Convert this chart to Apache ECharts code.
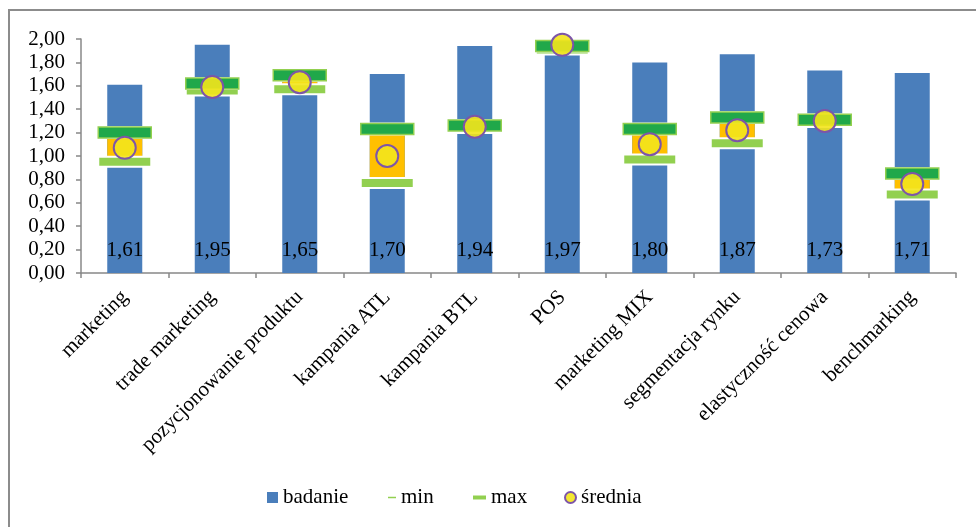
<!DOCTYPE html>
<html>
<head>
<meta charset="utf-8">
<script src="https://cdn.jsdelivr.net/npm/echarts@6/dist/echarts.min.js"></script>
<style>
  html, body { margin: 0; padding: 0; background: #fff; }
  #chart { width: 976px; height: 527px; }
</style>
</head>
<body>
<div id="chart"></div>
<script>
/**
 * data
 */
var categories = ['marketing', 'trade marketing', 'pozycjonowanie produktu', 'kampania ATL', 'kampania BTL',
    'POS', 'marketing MIX', 'segmentacja rynku', 'elastyczność cenowa', 'benchmarking'];
var badanie = [1.61, 1.95, 1.65, 1.70, 1.94, 1.97, 1.80, 1.87, 1.73, 1.71];
var minVals = [0.95, 1.56, 1.57, 0.77, 1.24, 1.91, 0.97, 1.11, 1.29, 0.67];
var maxVals = [1.20, 1.62, 1.69, 1.23, 1.26, 1.94, 1.23, 1.33, 1.31, 0.85];
var srednia = [1.07, 1.59, 1.63, 1.00, 1.25, 1.95, 1.10, 1.22, 1.30, 0.76];

var FONT = 'Liberation Serif';
var BLUE = '#4a7ebb', ORANGE = '#ffc000', DARK_GREEN = '#20a84a', LIGHT_GREEN = '#92d050';

function fmt(v){
    return Number(v).toFixed(2).replace('.', ',');
}

/**
 * draws a flat dash marker centred on the value
 */
function dashRenderer(w, h, fill, stroke, pad){
    return function(params, api){
        var p = api.coord([api.value(0), api.value(1)]);
        var children = [];
        if (pad > 0) {
            children.push({
                type: 'rect',
                shape: {x: p[0] - w / 2 - pad, y: p[1] - h / 2 - pad, width: w + pad * 2, height: h + pad * 2},
                style: {fill: '#fff'}
            });
        }
        children.push({
            type: 'rect',
            shape: {x: p[0] - w / 2, y: p[1] - h / 2, width: w, height: h},
            style: {fill: fill, stroke: stroke, lineWidth: stroke ? 1.5 : 0}
        });
        return {type: 'group', children: children};
    };
}

function boxRenderer(params, api){
    var lo = api.coord([api.value(0), api.value(1)]);
    var hi = api.coord([api.value(0), api.value(2)]);
    var w = 35;
    return {
        type: 'rect',
        shape: {x: lo[0] - w / 2, y: hi[1], width: w, height: lo[1] - hi[1]},
        style: {fill: ORANGE}
    };
}

var chart = echarts.init(document.getElementById('chart'));

var legendBase = {
    top: 482,
    orient: 'horizontal',
    selectedMode: false,
    textStyle: {fontFamily: FONT, fontSize: 21, color: '#000'}
};

var option = {
    animation: false,
    backgroundColor: '#fff',
    textStyle: {fontFamily: FONT},
    graphic: [{
        type: 'rect',
        shape: {x: 9, y: 10, width: 1000, height: 600},
        style: {fill: 'none', stroke: '#8c8c8c', lineWidth: 2},
        silent: true
    }],
    legend: [
        Object.assign({}, legendBase, {left: 262, itemWidth: 11, itemHeight: 11,
            data: [{name: 'badanie', icon: 'rect'}]}),
        Object.assign({}, legendBase, {left: 383, itemWidth: 8, itemHeight: 1.5,
            data: [{name: 'min', icon: 'rect', itemStyle: {color: LIGHT_GREEN, borderWidth: 0}}]}),
        Object.assign({}, legendBase, {left: 468, itemWidth: 13, itemHeight: 4,
            data: [{name: 'max', icon: 'rect', itemStyle: {color: LIGHT_GREEN, borderWidth: 0}}]}),
        Object.assign({}, legendBase, {left: 559, itemWidth: 11, itemHeight: 11,
            data: [{name: 'średnia', icon: 'circle'}]})
    ],
    grid: {left: 81, right: 20, top: 39, bottom: 254},
    xAxis: {
        type: 'category',
        data: categories,
        axisLine: {lineStyle: {color: '#888', width: 1.5}},
        axisTick: {show: true, length: 5, interval: 0, lineStyle: {color: '#888', width: 1.5}},
        axisLabel: {
            interval: 0,
            rotate: 45,
            margin: 21,
            fontFamily: FONT,
            fontSize: 21,
            color: '#000'
        }
    },
    yAxis: {
        type: 'value',
        min: 0,
        max: 2,
        interval: 0.2,
        splitLine: {show: false},
        axisLine: {show: true, lineStyle: {color: '#888', width: 1.5}},
        axisTick: {show: true, length: 5, lineStyle: {color: '#888', width: 1.5}},
        axisLabel: {
            margin: 16,
            fontFamily: FONT,
            fontSize: 21,
            color: '#000',
            formatter: function(v){ return fmt(v); }
        }
    },
    series: [
        {
            name: 'badanie',
            type: 'bar',
            barWidth: 35,
            z: 2,
            itemStyle: {color: BLUE},
            label: {
                show: true,
                position: 'insideBottom',
                distance: 12,
                fontFamily: FONT,
                fontSize: 21,
                color: '#000',
                formatter: function(p){ return fmt(p.value); }
            },
            data: badanie
        },
        {
            name: 'box',
            type: 'custom',
            z: 3,
            silent: true,
            renderItem: boxRenderer,
            data: minVals.map(function(v, i){ return [i, v, maxVals[i]]; })
        },
        {
            name: 'min',
            type: 'custom',
            z: 4,
            itemStyle: {color: LIGHT_GREEN},
            renderItem: dashRenderer(51, 8, LIGHT_GREEN, null, 2),
            data: minVals.map(function(v, i){ return [i, v]; })
        },
        {
            name: 'max',
            type: 'custom',
            z: 5,
            itemStyle: {color: LIGHT_GREEN},
            renderItem: dashRenderer(53, 11, DARK_GREEN, LIGHT_GREEN, 1),
            data: maxVals.map(function(v, i){ return [i, v]; })
        },
        {
            name: 'średnia',
            type: 'scatter',
            z: 6,
            symbol: 'circle',
            symbolSize: 22,
            itemStyle: {color: 'rgba(243,228,28,0.9)', borderColor: '#7d55a8', borderWidth: 2, opacity: 1},
            data: srednia
        }
    ]
};
chart.setOption(option);
</script>
</body>
</html>
